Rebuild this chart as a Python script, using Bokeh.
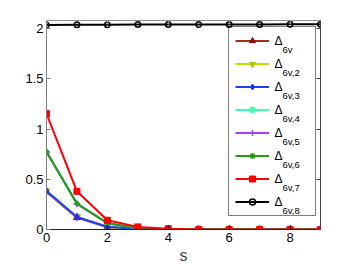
from bokeh.plotting import figure
from bokeh.models import (Legend, LegendItem, Label, LinearAxis, FixedTicker)
from bokeh.embed import file_html
from bokeh.resources import INLINE

s = [0, 1, 2, 3, 4, 5, 6, 7, 8, 9]
d1 = [0.375, 0.118, 0.022, 0.004, 0.001, 0, 0, 0, 0, 0]
d2 = [0.385, 0.128, 0.026, 0.005, 0.001, 0, 0, 0, 0, 0]
d3 = [0.383, 0.125, 0.028, 0.006, 0.001, 0, 0, 0, 0, 0]
d4 = [0.770, 0.255, 0.062, 0.012, 0.002, 0, 0, 0, 0, 0]
d5 = [0.772, 0.256, 0.063, 0.013, 0.002, 0, 0, 0, 0, 0]
d6 = [0.776, 0.258, 0.065, 0.013, 0.002, 0, 0, 0, 0, 0]
d7 = [1.153, 0.380, 0.092, 0.026, 0.008, 0, 0, 0, 0, 0]
d8 = [2.035, 2.037, 2.038, 2.039, 2.040, 2.040, 2.041, 2.041, 2.042, 2.042]
subs = ["6v", "6v,2", "6v,3", "6v,4", "6v,5", "6v,6", "6v,7", "6v,8"]
xticks = [0, 2, 4, 6, 8]
yticks = [0, 0.5, 1, 1.5, 2]

series = [
    (d1, "#a52a1f", "#8b0e0e", "triangle", 7, True),
    (d2, "#c0e000", "#a8c800", "inverted_triangle", 7, True),
    (d3, "#2040ff", "#1a30ff", "diamond", 7, True),
    (d4, "#40ffb0", "#40ffb0", "circle", 3, True),
    (d5, "#a040ff", "#a040ff", "cross", 7, False),
    (d6, "#20a010", "#20a010", "asterisk", 5, False),
    (d7, "#ff0000", "#ff0000", "square", 6, True),
    (d8, "#000000", "#000000", "circle", 5.5, False),
]

W, H = 354, 266
FL, FR, FT, FB = 46, 34, 20, 36
FW, FH = W - FL - FR, H - FT - FB

p = figure(width=W, height=H, x_range=(0, 9), y_range=(0, 2.08),
           output_backend="svg", toolbar_location=None,
           min_border_left=FL, min_border_right=FR, min_border_top=FT, min_border_bottom=FB,
           background_fill_color="white", border_fill_color="white")
p.xgrid.visible = False
p.ygrid.visible = False
p.outline_line_color = None

font = "Liberation Sans"
for ax, tk in ((p.xaxis[0], xticks), (p.yaxis[0], yticks)):
    ax.ticker = FixedTicker(ticks=tk)
    ax.major_tick_in = 4
    ax.major_tick_out = 0
    ax.minor_tick_line_color = None
    ax.major_label_text_font = font
    ax.major_label_text_font_size = "13px"
    ax.major_label_text_color = "black"
    ax.major_label_standoff = 3
p.yaxis[0].axis_line_color = "#808080"
p.yaxis[0].major_tick_line_color = "#808080"
p.xaxis[0].axis_line_color = "#202020"
p.xaxis[0].axis_label = "s"
p.xaxis[0].axis_label_text_font = font
p.xaxis[0].axis_label_text_font_style = "normal"
p.xaxis[0].axis_label_text_font_size = "16px"
p.xaxis[0].axis_label_standoff = 2
p.xaxis[0].major_label_overrides = {0: "0", 2: "2", 4: "4", 6: "6", 8: "8"}
p.yaxis[0].major_label_overrides = {0: "0", 0.5: "0.5", 1: "1", 1.5: "1.5", 2: "2"}

for loc, tk, col in (("right", yticks, "#404040"), ("above", xticks, "#909090")):
    ax = LinearAxis(ticker=FixedTicker(ticks=tk), major_tick_in=4, major_tick_out=0,
                    minor_tick_line_color=None, major_label_text_font_size="0px",
                    major_label_standoff=0, axis_line_color=col, major_tick_line_color=col)
    p.add_layout(ax, loc)

items = []
for (d, lc, mc, mk, sz, fill) in series:
    lr = p.line(s, d, line_color=lc, line_width=2)
    sr = p.scatter(s, d, marker=mk, size=sz, line_color=mc, line_width=1.5 if not fill else 1,
                   fill_color=mc, fill_alpha=1 if fill else 0)
    items.append(LegendItem(label=" ", renderers=[lr, sr]))

PAD, GH, SP = 6, 15, 8
LEG_X, LEG_TOP = 182, 9
LEG_H = 2 * PAD + len(items) * GH + (len(items) - 1) * SP
legend = Legend(items=items, location=(LEG_X, FH - LEG_TOP - LEG_H), padding=PAD, spacing=SP,
                glyph_height=GH, glyph_width=34, label_height=GH, label_width=36,
                label_standoff=4, margin=0, border_line_color="black", border_line_width=1,
                background_fill_color="white", background_fill_alpha=0,
                label_text_font_size="10px")
p.add_layout(legend, "center")

for i, sub in enumerate(subs):
    cy = FH - (LEG_TOP + PAD + GH / 2 + i * (GH + SP))
    p.add_layout(Label(x=LEG_X + 46, y=cy + 1, x_units="screen", y_units="screen", text="Δ",
                       text_font=font, text_font_size="12px", text_baseline="alphabetic",
                       text_color="black", level="overlay"))
    p.add_layout(Label(x=LEG_X + 54, y=cy - 7, x_units="screen", y_units="screen", text=sub,
                       text_font=font, text_font_size="9.5px", text_baseline="alphabetic",
                       text_color="black", level="overlay"))

open("out.html", "w").write(file_html(p, INLINE))
